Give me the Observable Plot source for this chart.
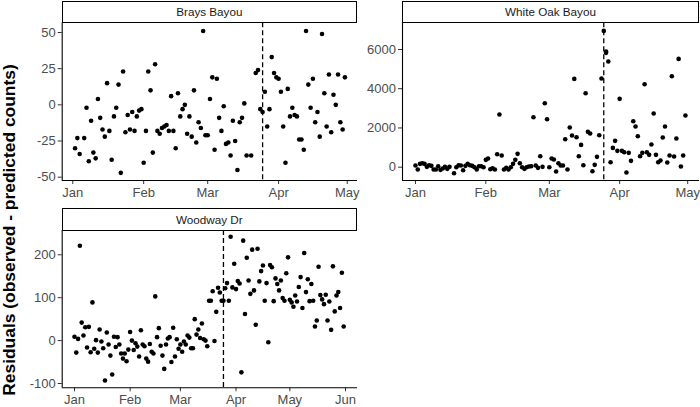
<!DOCTYPE html>
<html>
<head>
<meta charset="utf-8">
<script src="https://cdn.jsdelivr.net/npm/d3@7"></script>
<script src="https://cdn.jsdelivr.net/npm/@observablehq/plot@0.6"></script>
<style>
  html, body { margin: 0; padding: 0; background: white; }
  #chart { position: relative; width: 700px; height: 407px; background: white; overflow: hidden;
           font-family: "Liberation Sans", Arial, sans-serif; }
  #chart svg { position: absolute; left: 0; top: 0; }
  #chart svg text { font-size: 13px !important; font-family: "Liberation Sans", Arial, sans-serif !important; }
  .strip { position: absolute; box-sizing: border-box; border: 1.3px solid #000; background: white;
           color: #1A1A1A; font-size: 11.7px !important; font-family: "Liberation Sans", Arial, sans-serif;
           text-align: center; display: flex; align-items: center; justify-content: center; }
  #ylab { position: absolute; width: 400px; height: 20px; line-height: 20px; text-align: center;
          font-weight: bold; font-size: 17.4px; color: #000; transform: rotate(-90deg); white-space: nowrap; }
</style>
</head>
<body>
<div id="chart"></div>
<script>
// ---------------- data (day index: 0 = Jan 1) ----------------
const panelNames = ["Brays Bayou", "White Oak Bayou", "Woodway Dr"];
const shiftDay = 83; // dashed line (Mar 25)
const monthLabels = ["Jan", "Feb", "Mar", "Apr", "May", "Jun"];

const braysDays = [1,2,3,5,6,7,8,9,10,11,12,13,14,15,16,17,18,19,20,21,22,23,24,25,26,27,28,29,30,31,32,33,34,35,36,37,38,39,40,41,42,43,44,45,46,47,48,49,50,51,52,53,54,55,56,57,58,59,60,61,62,63,64,65,66,67,68,69,70,71,72,73,74,75,76,78,80,81,82,83,84,85,86,87,88,89,90,91,92,93,94,95,96,97,98,99,100,101,102,103,104,105,106,107,108,109,110,111,112,113,114,115,116,117,118,119];
const braysResid = [-30,-23,-34,-23,-2,-39,-11,-33,-37,4,-9,-17,-22,15,-18,-38,-8,-2,14,-47,23,-19,-7,-17,-5,-18,-8,-4,-3,-40,-18,23,10,-33,28,-18,-20,-16,-15,-14,-18,6,-18,-30,8,-8,-3,0,-20,-8,-22,10,-26,-12,-16,51,-21,-21,4,19,-31,18,-9,-18,-1,-27,-26,-35,-11,-25,-45,-12,-9,1,-35,-35,22,24,-3,-5,9,-15,-3,33,22,19,18,9,-15,-40,11,-8,-2,-7,-8,-24,-24,-31,51,14,-2,18,-12,-5,-22,49,8,-15,21,-19,7,0,21,-12,-17,19];

const whiteOakDays = [0,1,2,3,4,5,6,7,8,9,10,11,12,13,14,15,17,18,19,20,21,22,23,24,25,26,27,28,29,30,31,32,33,34,35,36,37,38,39,40,41,42,43,44,45,46,47,48,49,50,51,52,53,54,55,56,57,58,59,60,61,62,63,64,65,66,67,68,69,70,71,72,73,74,75,76,77,78,79,80,81,82,83,84,84,85,86,87,88,89,90,91,92,93,94,95,96,97,98,99,100,101,102,103,104,105,106,107,108,109,110,111,112,113,114,115,116,117,118,119];
const whiteOakResid = [85,-119,170,204,170,17,102,68,-119,-119,51,-136,-68,17,-85,17,-306,0,102,85,-153,68,170,102,68,0,-119,51,51,0,374,442,-102,-51,-119,663,2684,595,-119,-34,-119,0,170,374,680,204,0,-85,0,34,51,2549,85,-34,561,17,3262,2447,0,442,391,-221,204,85,85,1427,-119,2022,1614,4502,1529,561,1138,102,3772,1801,1716,-204,119,527,1631,4519,6949,5830,5897,5386,255,985,1342,833,3483,833,765,-272,731,323,2345,2073,1580,561,731,4230,765,629,1155,2735,629,255,340,1512,2073,238,595,4638,544,1461,5522,34,595,2633];

const woodwayDays = d3.range(0, 151);
const woodwayResid = [9,-28,4,221,42,12,31,-16,32,-27,89,-19,1,-28,26,-2,-18,-93,19,-9,-35,-79,9,-15,8,-9,-30,-42,-30,-48,-21,20,0,-22,-6,-14,-37,24,-9,-13,-42,-49,-8,-26,-30,103,8,29,-12,-35,-66,-9,5,8,-50,30,-37,3,-19,-9,-26,-2,-9,12,7,-18,-18,50,14,26,6,40,3,0,-13,93,93,115,-1,67,123,112,93,93,122,134,93,242,124,179,120,139,133,-74,233,62,193,140,109,212,117,37,214,138,162,175,93,134,-4,176,171,92,145,132,117,140,99,93,157,194,95,89,79,105,91,125,148,76,204,113,143,92,132,93,33,47,172,106,96,85,107,47,91,25,173,68,105,113,76,158,33];

const yTicksBrays = [-50, -25, 0, 25, 50];
const yTicksWhiteOak = [0, 2000, 4000, 6000];
const yTicksWoodway = [-100, 0, 100, 200];

// ---------------- helpers ----------------
const t0 = Date.UTC(2021, 0, 1);
const dayDate = d => new Date(t0 + d * 864e5);
const monthDates = n => d3.range(n).map(m => new Date(Date.UTC(2021, m, 1)));

const W = 700, H = 407;
const chart = document.getElementById("chart");

function panel({name, days, vals, xDom, yDom, yTicks, nMonths, box}) {
  const data = days.map((d, i) => ({date: dayDate(d), v: vals[i]}));
  const svg = Plot.plot({
    width: W, height: H,
    marginLeft: box.left, marginRight: W - box.right,
    marginTop: box.top, marginBottom: H - box.bottom,
    style: {background: "transparent", fontFamily: "'Liberation Sans', Arial, sans-serif", fontSize: "13px", color: "#4D4D4D", overflow: "visible"},
    x: {type: "utc", domain: [dayDate(xDom[0]), dayDate(xDom[1])]},
    y: {type: "linear", domain: yDom},
    marks: [
      Plot.axisX({ticks: monthDates(nMonths), tickFormat: d => monthLabels[d.getUTCMonth()], tickSize: 4, tickPadding: 3, label: null, stroke: "#333", fill: "#4D4D4D", fontSize: 13}),
      Plot.axisY({ticks: yTicks, tickFormat: d => String(d), tickSize: 4, tickPadding: 2.5, label: null, stroke: "#333", fill: "#4D4D4D", fontSize: 13}),
      Plot.ruleX([dayDate(shiftDay)], {stroke: "black", strokeWidth: 1.3, strokeDasharray: "5,3"}),
      Plot.dot(data, {x: "date", y: "v", r: 2.3, fill: "black", stroke: null}),
      Plot.ruleY([yDom[0]], {stroke: "black", strokeWidth: 1.1}),
      Plot.ruleX([dayDate(xDom[0])], {stroke: "black", strokeWidth: 1.1})
    ]
  });
  chart.appendChild(svg);
  const strip = document.createElement("div");
  strip.className = "strip";
  strip.style.left = box.left + "px";
  strip.style.top = box.stripTop + "px";
  strip.style.width = (box.right - box.left) + "px";
  strip.style.height = (box.top - box.stripTop + 0.6) + "px";
  strip.textContent = name;
  chart.appendChild(strip);
}

panel({name: panelNames[0], days: braysDays, vals: braysResid, xDom: [-4.63, 124.5], yDom: [-52.3, 56.7], yTicks: yTicksBrays, nMonths: 5,
       box: {left: 61.7, right: 357, top: 22.3, bottom: 180, stripTop: 1}});
panel({name: panelNames[1], days: whiteOakDays, vals: whiteOakResid, xDom: [-5.73, 125.2], yDom: [-678, 7361], yTicks: yTicksWhiteOak, nMonths: 5,
       box: {left: 402, right: 699, top: 22.3, bottom: 180, stripTop: 1}});
panel({name: panelNames[2], days: woodwayDays, vals: woodwayResid, xDom: [-6.85, 157.7], yDom: [-110, 256.6], yTicks: yTicksWoodway, nMonths: 6,
       box: {left: 61.7, right: 357, top: 230, bottom: 387.3, stripTop: 208.3}});

const ylab = document.createElement("div");
ylab.id = "ylab";
ylab.textContent = "Residuals (observed - predicted counts)";
ylab.style.left = (8.5 - 200) + "px";
ylab.style.top = (230 - 10) + "px";
chart.appendChild(ylab);
</script>
</body>
</html>
